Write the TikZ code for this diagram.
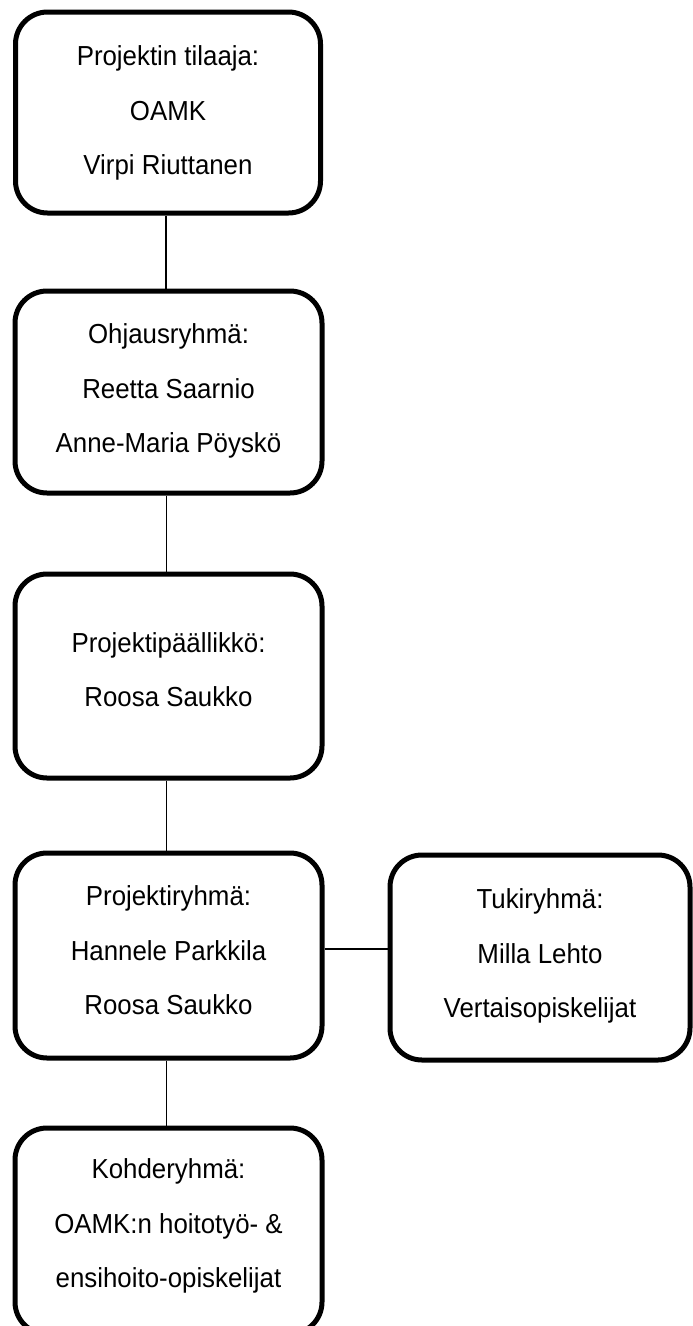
\documentclass[tikz,border=0pt]{standalone}
\usepackage{fontspec}
\setmainfont[FakeStretch=0.94]{Liberation Sans}
\begin{document}
\begin{tikzpicture}[x=1pt,y=1pt,
  box/.style={draw, line width=5pt, rounded corners=32pt, inner sep=0pt},
  txt/.style={align=center, inner sep=0pt, font=\fontsize{27.5}{54.5}\selectfont},
  link/.style={line width=1.6pt}]
\fill[white] (0,0) rectangle (693,-1326);
\useasboundingbox (0,0) rectangle (693,-1326);
% boxes
\node[box, minimum width=305pt, minimum height=201pt] (b1) at (168,-112.5) {};
\node[box, minimum width=307pt, minimum height=202pt] (b2) at (168.5,-392) {};
\node[box, minimum width=307pt, minimum height=204pt] (b3) at (168.5,-676) {};
\node[box, minimum width=307pt, minimum height=205pt] (b4) at (168.5,-955.5) {};
\node[box, minimum width=300pt, minimum height=205pt] (b5) at (540,-957.5) {};
\node[box, minimum width=307pt, minimum height=206pt] (b6) at (168.5,-1231) {};
% texts
\node[txt] (t1) at ([yshift=3.4pt]b1.center) {\strut Projektin tilaaja:\\OAMK\\Virpi Riuttanen\strut};
\node[txt] (t2) at ([yshift=4.8pt]b2.center) {\strut Ohjausryhmä:\\Reetta Saarnio\\Anne-Maria Pöyskö\strut};
\node[txt] (t3) at ([yshift=7.3pt]b3.center) {\strut Projektipäällikkö:\\Roosa Saukko\strut};
\node[txt] (t4) at ([yshift=6.3pt]b4.center) {\strut Projektiryhmä:\\Hannele Parkkila\\Roosa Saukko\strut};
\node[txt] (t5) at ([yshift=5.4pt]b5.center) {\strut Tukiryhmä:\\Milla Lehto\\Vertaisopiskelijat\strut};
\node[txt] (t6) at ([yshift=8.9pt]b6.center) {\strut Kohderyhmä:\\OAMK:n hoitotyö- \&\\ensihoito-opiskelijat\strut};
% connectors
\draw[link] ([xshift=-2pt]b1.south) -- ([xshift=-2pt]b1.south |- b2.north);
\draw[link] ([xshift=-2pt]b2.south) -- ([xshift=-2pt]b2.south |- b3.north);
\draw[link] ([xshift=-2pt]b3.south) -- ([xshift=-2pt]b3.south |- b4.north);
\draw[link] ([xshift=-2pt]b4.south) -- ([xshift=-2pt]b4.south |- b6.north);
\draw[link] ([yshift=6.5pt]b4.east) -- ([yshift=6.5pt]b4.east -| b5.west);
\end{tikzpicture}
\end{document}
